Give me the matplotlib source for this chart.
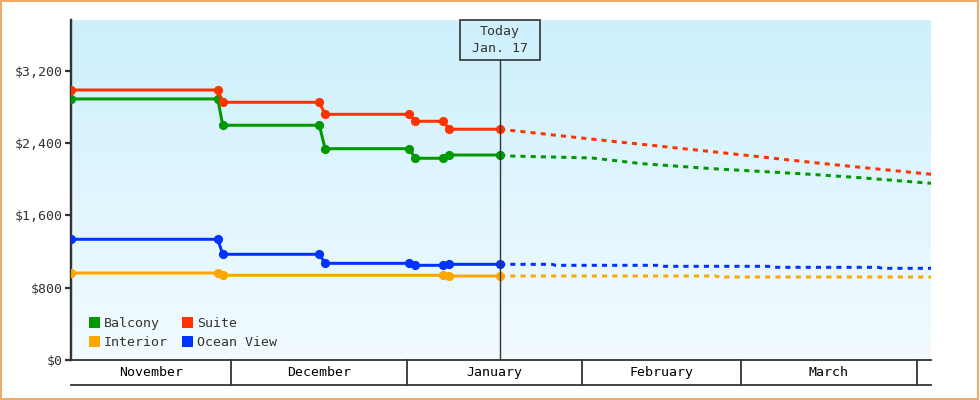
import numpy as np
import matplotlib
matplotlib.use("Agg")
import matplotlib.pyplot as plt
from matplotlib.patches import Patch, Rectangle
from matplotlib.ticker import FuncFormatter

# ---- data (x = days since Nov 1) ----
hist_days = [1.76, 27.65, 28.53, 45.58, 46.59, 61.46, 62.47, 67.46, 68.47, 77.47]
balcony_hist = [2887, 2887, 2596, 2596, 2337, 2337, 2231, 2231, 2267, 2267]
suite_hist = [2986, 2986, 2850, 2850, 2717, 2717, 2640, 2640, 2552, 2552]
ocean_hist = [1335, 1335, 1169, 1169, 1069, 1069, 1047, 1047, 1058, 1058]
interior_days = [1.76, 27.65, 28.53, 67.46, 68.47, 77.47]
interior_hist = [962, 962, 937, 937, 929, 929]

suite_fc_days = [77.47, 95.1, 114.9, 132.2, 141.0, 153.5]
suite_fc = [2552, 2433, 2304, 2187, 2131, 2054]
balcony_fc_days = [77.47, 79.2, 93.7, 102.5, 114.9, 132.2, 141.0, 153.5]
balcony_fc = [2267, 2256, 2234, 2171, 2116, 2054, 2016, 1954]
ocean_fc_days = [77.47, 86.6, 87.3, 105.7, 106.4, 124.8, 125.5, 144.2, 144.9, 153.5]
ocean_fc = [1058, 1058, 1047, 1047, 1036, 1036, 1025, 1025, 1014, 1014]
interior_fc_days = [77.47, 115.4, 116.3, 153.5]
interior_fc = [929, 929, 918, 918]

month_names = ["November", "December", "January", "February", "March", ""]
month_starts = [0, 30, 61, 92, 120, 151]
today_day = 77.47
today_label = "Today\nJan. 17"
yticks = [0, 800, 1600, 2400, 3200]

x_start, x_end = 1.76, 153.5
y_max = 3760

colors = {"Balcony": "#009900", "Suite": "#ff3300",
          "Interior": "#ffa500", "Ocean View": "#0033ff"}
dark = "#333333"
font = "DejaVu Sans Mono"
fs = 9.5

fig = plt.figure(figsize=(9.8, 4.0), dpi=100)
ax = fig.add_axes([71/980, 40/400, 860/980, 340/400])

# gradient background
grad = np.linspace(0, 1, 256).reshape(-1, 1)
top = np.array([205, 240, 252]) / 255
bot = np.array([242, 251, 255]) / 255
img = top[None, None, :] * (1 - grad[:, :, None]) + bot[None, None, :] * grad[:, :, None]
ax.imshow(img, extent=[x_start, x_end, 0, y_max], aspect="auto", zorder=0, origin="upper")

lw = 3 * 0.72
ms = 5.6
series = [
    ("Balcony", hist_days, balcony_hist, balcony_fc_days, balcony_fc),
    ("Suite", hist_days, suite_hist, suite_fc_days, suite_fc),
    ("Interior", interior_days, interior_hist, interior_fc_days, interior_fc),
    ("Ocean View", hist_days, ocean_hist, ocean_fc_days, ocean_fc),
]
for name, hd, hv, fd, fv in series:
    c = colors[name]
    ax.plot(fd, fv, color=c, lw=lw, linestyle=(0, (1.7, 1.7)),
            dash_capstyle="butt", zorder=3)
    ax.plot(hd, hv, color=c, lw=lw, marker="o", ms=ms, zorder=4,
            solid_joinstyle="round")

ax.set_xlim(x_start, x_end)
ax.set_ylim(0, y_max)

# today line and box
px_day = 860 / (x_end - x_start)
box_half = 40 / px_day
box_bottom = y_max * (300 / 340)
ax.plot([today_day, today_day], [0, box_bottom], color=dark, lw=1, zorder=5)
ax.add_patch(Rectangle((today_day - box_half, box_bottom), 2 * box_half, y_max - box_bottom,
                       fill=False, ec=dark, lw=1.2, zorder=6, clip_on=False))
ax.text(today_day, (box_bottom + y_max) / 2, today_label, ha="center", va="center",
        fontsize=fs, family=font, color=dark, linespacing=1.45, zorder=6)

# axes styling
for s in ["top", "right", "bottom"]:
    ax.spines[s].set_visible(False)
ax.spines["left"].set_color(dark)
ax.spines["left"].set_linewidth(2 * 0.72 * 1.2)
ax.set_yticks(yticks)
ax.yaxis.set_major_formatter(FuncFormatter(lambda v, p: "${:,.0f}".format(v)))
ax.tick_params(axis="y", length=4, width=1.6, color=dark, labelcolor=dark,
               labelsize=fs, pad=2)
for lab in ax.get_yticklabels():
    lab.set_family(font)
ax.set_xticks([])

# month band below the axis
trans = ax.get_xaxis_transform()
band_h = 25 / 340
ax.plot([x_start, x_end], [0, 0], transform=trans, color=dark, lw=1.3, clip_on=False, zorder=6)
ax.plot([x_start, x_end], [-band_h, -band_h], transform=trans, color=dark, lw=1.3, clip_on=False)
for i, name in enumerate(month_names):
    a = max(month_starts[i], x_start)
    b = month_starts[i + 1] if i + 1 < len(month_starts) else x_end
    b = min(b, x_end)
    if i > 0:
        ax.plot([a, a], [0, -band_h], transform=trans, color=dark, lw=1.3, clip_on=False)
    if name:
        ax.text((a + b) / 2, -band_h / 2, name, transform=trans, ha="center", va="center",
                fontsize=fs, family=font, color="black")

# legend
handles = [Patch(facecolor=colors[n], edgecolor="none") for n in ["Balcony", "Interior", "Suite", "Ocean View"]]
labels = ["Balcony", "Interior", "Suite", "Ocean View"]
leg = ax.legend(handles, labels, ncol=2, loc="lower left", bbox_to_anchor=(0.018, 0.025),
                frameon=False, prop={"family": font, "size": fs},
                handlelength=0.85, handleheight=0.85, handletextpad=0.25,
                columnspacing=1.1, labelspacing=0.45, borderpad=0.2, borderaxespad=0)
for t in leg.get_texts():
    t.set_color(dark)

# figure border
fig.patches.append(Rectangle((0.001, 0.002), 0.997, 0.995, transform=fig.transFigure,
                             fill=False, ec="#eeac68", lw=1.5))

fig.savefig("out.png", dpi=100)
